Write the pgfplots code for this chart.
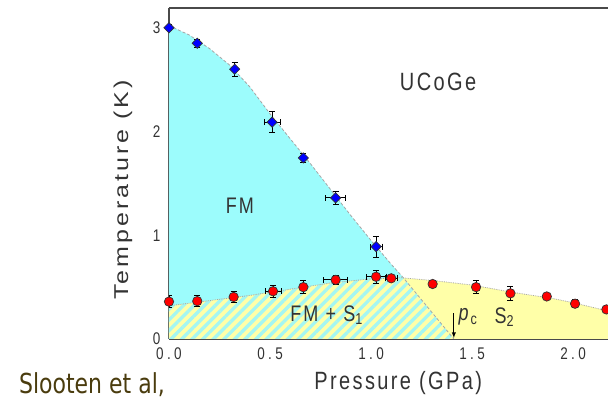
\documentclass[border=0pt]{standalone}
\usepackage{pgfplots}
\pgfplotsset{compat=1.18}
\usepackage{pgfplotstable}
\usepackage{fontspec}
\setmainfont{Liberation Sans}
\newfontfamily\lsf[LetterSpace=12]{Liberation Sans}
\newfontfamily\tsf[LetterSpace=25]{Liberation Sans}
\newfontfamily\dvs{DejaVu Sans}
\usetikzlibrary{patterns.meta}
\newcommand\vs[1]{\scalebox{1}[1.25]{#1}}
\definecolor{fmcyan}{HTML}{9CFCFC}
\definecolor{scyellow}{HTML}{FFFFA8}
\definecolor{hatchc}{HTML}{A4F6F2}
\definecolor{axgray}{HTML}{4A4A4A}
\definecolor{brownish}{HTML}{4A3C0E}
\definecolor{txt}{HTML}{333333}

\pgfplotstableread{
x y ex ey
0.0 3.00 0 0.03
0.14 2.85 0 0.04
0.325 2.60 0 0.07
0.51 2.09 0.04 0.10
0.665 1.745 0 0.04
0.825 1.36 0.05 0.06
1.025 0.89 0.03 0.10
}\bluedata

\pgfplotstableread{
x y ex ey
0.0 0.36 0 0.06
0.14 0.365 0 0.05
0.32 0.405 0 0.05
0.515 0.46 0.04 0.06
0.665 0.50 0 0.06
0.825 0.57 0.06 0.04
1.025 0.60 0.05 0.06
1.10 0.585 0.03 0.02
1.305 0.53 0 0.03
1.52 0.50 0 0.06
1.69 0.44 0 0.07
1.87 0.41 0 0.03
2.01 0.34 0 0.04
2.165 0.285 0 0.03
}\reddata

\begin{document}
\begin{tikzpicture}
\useasboundingbox (-169pt,-65pt) rectangle (439pt,339pt);
\begin{axis}[
  at={(0,0)}, anchor=south west,
  scale only axis, width=439pt, height=331pt,
  xmin=0, xmax=2.173, ymin=0, ymax=3.19,
  axis x line=box, axis y line=left,
  axis line style={axgray, line width=1.6pt},
  x axis line style={-}, y axis line style={-},
  xtick={0,0.5,1,1.5,2},
  xticklabels={\vs{0.0},\vs{0.5},\vs{1.0},\vs{1.5},\vs{2.0}},
  minor xtick={0.25,0.75,1.25,1.75},
  ytick={0,1,2,3},
  yticklabels={\vs{0},\vs{1},\vs{2},\vs{3}},
  minor ytick={0.5,1.5,2.5},
  tick align=inside, xtick pos=left, ytick pos=left,
  major tick length=5pt, minor tick length=3pt,
  tick style={axgray, line width=1.2pt},
  xticklabel style={font=\tsf\fontsize{13.5}{13.5}\selectfont, text=txt, yshift=-5pt},
  yticklabel style={font=\tsf\fontsize{13.5}{13.5}\selectfont, text=txt, xshift=-5pt},
  xlabel={\vs{Pressure (GPa)}},
  ylabel={\scalebox{1.25}[1]{Temperature (K)}},
  xlabel style={font=\lsf\fontsize{20}{20}\selectfont, text=txt, at={(axis description cs:0.522,0)}, anchor=center, yshift=-44pt},
  ylabel style={font=\lsf\fontsize{20}{20}\selectfont, text=txt, at={(axis description cs:-0.105,0.45)}, anchor=center},
]
% FM region (cyan)
\addplot[draw=none, fill=fmcyan] coordinates {
 (0,0) (0,3.02) (0.1,2.93) (0.2,2.80) (0.3,2.64) (0.4,2.43) (0.5,2.17) (0.6,1.93)
 (0.7,1.69) (0.8,1.44) (0.9,1.19) (1.0,0.95) (1.1,0.72) (1.16,0.59) (1.41,0)} -- cycle;
% superconducting region (yellow)
\addplot[draw=none, fill=scyellow] coordinates {
 (0,0) (0,0.32) (0.2,0.37) (0.4,0.42) (0.6,0.48) (0.8,0.54) (1.0,0.58) (1.15,0.59)
 (1.3,0.565) (1.5,0.52) (1.7,0.45) (1.9,0.39) (2.0,0.35) (2.173,0.27) (2.173,0)} -- cycle;
% FM + S1 hatched
\addplot[draw=none, pattern={Lines[angle=45,distance=7.5pt,line width=3.3pt]}, pattern color=hatchc] coordinates {
 (0,0) (0,0.32) (0.2,0.37) (0.4,0.42) (0.6,0.48) (0.8,0.54) (1.0,0.58) (1.16,0.59) (1.41,0)} -- cycle;
% boundary lines
\addplot[gray!70, densely dashed, line width=0.8pt] coordinates {
 (0,3.02) (0.1,2.93) (0.2,2.80) (0.3,2.64) (0.4,2.43) (0.5,2.17) (0.6,1.93)
 (0.7,1.69) (0.8,1.44) (0.9,1.19) (1.0,0.95) (1.1,0.72) (1.16,0.59) (1.41,0)};
\addplot[gray!70, densely dotted, line width=0.8pt] coordinates {
 (0,0.32) (0.2,0.37) (0.4,0.42) (0.6,0.48) (0.8,0.54) (1.0,0.58) (1.15,0.59)
 (1.3,0.565) (1.5,0.52) (1.7,0.45) (1.9,0.39) (2.0,0.35) (2.173,0.27)};
% data
\addplot[only marks, mark=square*, mark size=3.6pt,
  mark options={rotate=45, fill=blue, draw=black!80, line width=0.7pt},
  error bars/.cd, x dir=both, x explicit, y dir=both, y explicit,
  error bar style={black, line width=0.9pt},
  error mark options={black, rotate=90, mark size=3pt, line width=0.9pt}]
  table[x=x, y=y, x error=ex, y error=ey] {\bluedata};
\addplot[only marks, mark=*, mark size=4.7pt,
  mark options={fill=red, draw=black!80, line width=0.7pt},
  error bars/.cd, x dir=both, x explicit, y dir=both, y explicit,
  error bar style={black, line width=0.9pt},
  error mark options={black, rotate=90, mark size=3pt, line width=0.9pt}]
  table[x=x, y=y, x error=ex, y error=ey] {\reddata};
% annotations
\draw[-latex, black, line width=0.9pt] (axis cs:1.41,0.25) -- (axis cs:1.41,0.01);
\node[font=\lsf\fontsize{20}{20}\selectfont, text=txt] at (axis cs:1.332,2.48) {\vs{UCoGe}};
\node[font=\lsf\fontsize{18}{18}\selectfont, text=txt] at (axis cs:0.351,1.28) {\vs{FM}};
\node[font=\lsf\fontsize{18}{18}\selectfont, text=txt] at (axis cs:0.78,0.23) {\vs{FM + S\textsubscript{1}}};
\node[font=\lsf\fontsize{18}{18}\selectfont, text=txt] at (axis cs:1.48,0.21) {\vs{\textit{p}\textsubscript{c}}};
\node[font=\lsf\fontsize{18}{18}\selectfont, text=txt] at (axis cs:1.66,0.21) {\vs{S\textsubscript{2}}};
\end{axis}
\node[font=\dvs\fontsize{22}{22}\selectfont, text=brownish] at (-77pt,-46pt) {\vs{Slooten et al,}};
\end{tikzpicture}
\end{document}
